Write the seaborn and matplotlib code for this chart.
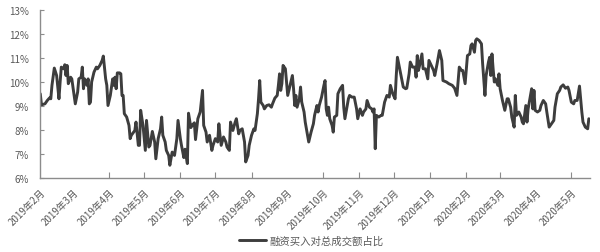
import numpy as np
import pandas as pd
import matplotlib
matplotlib.use("Agg")
import matplotlib.pyplot as plt
import seaborn as sns

# ---------------- data ----------------
start_date = "2019-02-01"
# calendar days since start_date
day_offsets = [
    0, 1, 4, 6, 8, 9, 10, 12, 14, 16, 17, 18, 20, 21, 22, 23, 24, 25, 26, 27,
    29, 30, 32, 33, 35, 36, 37, 38, 40, 41, 42, 43, 44, 46, 48, 49, 51, 53, 54, 56,
    57, 58, 60, 62, 63, 64, 65, 66, 68, 69, 70, 71, 72, 74, 76, 77, 78, 81, 82, 84,
    85, 86, 88, 90, 91, 93, 94, 96, 98, 99, 101, 103, 104, 105, 107, 108, 110, 111, 113, 115,
    117, 118, 120, 121, 123, 124, 126, 127, 129, 130, 132, 133, 134, 135,
    137, 139, 140, 142, 143, 145, 147, 148, 150, 152, 153, 154, 155, 157, 159, 160, 162, 163, 165, 167,
    168, 170, 171, 173, 175, 176, 178, 179, 181, 183, 184, 186, 187, 188, 189, 191, 192, 194, 196, 198,
    199, 201, 203, 204, 205, 206, 207, 208, 210, 211, 212, 214, 216, 217, 218, 219, 220, 222, 223, 224,
    226, 227, 229, 230, 232, 234, 235, 237, 238, 239, 241, 243, 244, 245, 246, 247, 248, 250, 251, 252,
    254, 255, 257, 259, 260, 261, 262, 264, 265, 267, 269, 271, 272, 274, 276, 277, 279, 280, 282, 284,
    285, 286, 287, 288, 290, 292, 293, 295, 297, 299, 300, 302, 304, 305, 306,
    311, 313, 314, 316, 317, 319, 321, 322, 323, 324, 325, 327, 328, 330, 332, 333, 335, 337, 338, 340,
    342, 344, 345, 348, 350, 353, 355, 357, 359, 361, 362, 364, 366, 368, 369, 370, 372, 373, 374, 376,
    378, 379, 381, 382, 384, 385, 386, 387, 388, 389, 390, 392, 393, 394, 396, 398, 400, 401, 403, 404,
    406, 407, 408, 410, 412, 413, 414, 416, 417, 418, 420, 421, 422, 423, 424, 426, 428, 429, 431, 433,
    434, 436, 438, 440, 441, 443, 445, 446, 448, 450, 452, 453, 455, 457, 458, 460, 462, 464, 465, 467,
    469, 470,
]
# 融资买入对总成交额占比 (%)
ratio_pct = [
    9.51, 9.05, 9.09, 9.23, 9.34, 9.30, 9.86, 10.58, 10.27, 9.30, 10.00, 10.62, 10.55, 10.72, 10.27, 10.69, 9.93, 10.06, 10.20, 10.13,
    9.44, 9.09, 9.58, 10.13, 10.20, 10.62, 9.72, 10.13, 9.86, 10.13, 9.09, 9.16, 10.00, 10.41, 10.62, 10.55, 10.69, 10.90, 11.08, 10.13,
    9.86, 9.02, 9.44, 10.13, 9.86, 10.20, 9.72, 10.38, 10.38, 10.34, 9.44, 9.44, 8.68, 8.54, 8.19, 7.64, 7.78, 7.98, 8.33, 7.36,
    7.36, 8.82, 8.19, 7.15, 8.40, 7.29, 7.36, 7.94, 7.50, 6.80, 7.64, 8.05, 8.54, 7.78, 7.50, 7.15, 6.94, 6.53, 7.08, 6.94,
    7.64, 8.40, 7.64, 7.35, 6.85, 7.20, 6.60, 8.70, 8.10, 8.19, 8.30, 7.60, 8.05, 8.47,
    8.75, 9.65, 8.19, 7.91, 7.50, 7.78, 7.15, 7.36, 7.64, 7.50, 8.26, 7.78, 7.36, 7.71, 7.50, 7.29, 7.15, 8.33, 7.98, 8.33,
    8.47, 7.84, 7.98, 8.05, 7.50, 6.67, 6.94, 7.36, 7.78, 8.05, 7.98, 8.68, 9.30, 10.06, 9.16, 9.02, 8.88, 9.02, 9.05, 8.95,
    9.09, 9.33, 9.44, 9.86, 10.34, 9.65, 9.93, 10.69, 10.55, 10.00, 9.44, 9.86, 10.27, 9.72, 9.02, 9.44, 8.95, 9.30, 9.79, 9.16,
    8.75, 8.33, 7.78, 7.50, 7.91, 8.26, 8.61, 9.02, 8.75, 9.02, 9.37, 9.86, 10.06, 8.88, 8.61, 8.95, 8.47, 8.19, 7.91, 8.54,
    8.61, 9.51, 9.72, 9.86, 8.95, 8.47, 8.75, 9.30, 9.44, 9.37, 9.37, 8.88, 8.47, 8.88, 8.61, 8.75, 8.88, 9.23, 8.95, 8.88,
    8.75, 8.88, 7.22, 8.61, 8.54, 8.61, 8.61, 9.16, 9.44, 9.37, 9.86, 9.51, 9.30, 10.27, 11.03,
    9.79, 9.72, 9.74, 10.34, 10.83, 10.62, 10.62, 10.20, 11.10, 10.48, 10.69, 11.17, 10.55, 10.55, 10.13, 10.90, 10.69, 10.48, 10.27, 10.76,
    11.31, 10.90, 10.06, 10.00, 9.93, 9.86, 9.74, 9.44, 10.62, 10.48, 10.48, 9.93, 11.10, 11.17, 11.52, 11.59, 11.24, 11.73, 11.80, 11.73,
    11.59, 10.76, 9.44, 10.27, 10.83, 11.03, 10.27, 11.17, 10.55, 10.00, 10.13, 9.86, 10.34, 9.72, 9.23, 8.82, 9.30, 9.30, 8.95, 8.54,
    8.12, 9.44, 8.61, 8.75, 8.54, 8.33, 8.26, 9.02, 8.33, 8.88, 9.44, 9.72, 8.88, 9.65, 8.82, 8.75, 8.82, 9.02, 9.23, 9.09,
    8.75, 8.12, 8.26, 8.40, 8.95, 9.51, 9.65, 9.79, 9.88, 9.74, 9.79, 9.65, 9.16, 9.09, 9.23, 9.23, 9.83, 8.75, 8.33, 8.12,
    8.05, 8.47,
]
series_name = "融资买入对总成交额占比"

month_ticks = [
    "2019-02-01", "2019-03-01", "2019-04-01", "2019-05-01", "2019-06-01", "2019-07-01",
    "2019-08-01", "2019-09-01", "2019-10-01", "2019-11-01", "2019-12-01", "2020-01-01",
    "2020-02-01", "2020-03-01", "2020-04-01", "2020-05-01",
]
month_labels = [
    "2019年2月", "2019年3月", "2019年4月", "2019年5月", "2019年6月", "2019年7月",
    "2019年8月", "2019年9月", "2019年10月", "2019年11月", "2019年12月", "2020年1月",
    "2020年2月", "2020年3月", "2020年4月", "2020年5月",
]
y_ticks = [6, 7, 8, 9, 10, 11, 12, 13]

# ---------------- styling ----------------
sns.set_style("white")
plt.rcParams["font.family"] = ["Noto Sans CJK SC", "DejaVu Sans"]

line_color = "#3d3d3d"
axis_color = "#8c8c8c"
text_color = "#595959"

df = pd.DataFrame({
    "date": pd.Timestamp(start_date) + pd.to_timedelta(day_offsets, unit="D"),
    "value": ratio_pct,
    "series": series_name,
})

fig = plt.figure(figsize=(6.0, 2.53), dpi=100)
ax = fig.add_axes([40 / 600, 1 - 179 / 253, 550 / 600, 168 / 253])

sns.lineplot(data=df, x="date", y="value", hue="series", palette=[line_color],
             linewidth=2.1, ax=ax, legend=True)

ax.set_ylim(6, 13)
ax.set_xlim(pd.Timestamp(start_date) - pd.Timedelta(hours=6),
            pd.Timestamp(start_date) + pd.Timedelta(days=471))
ax.set_yticks(y_ticks)
ax.set_yticklabels([f"{v}%" for v in y_ticks])
ax.set_xticks(pd.to_datetime(month_ticks))
ax.set_xticklabels(month_labels, rotation=45, ha="right", rotation_mode="anchor")

ax.set_xlabel("")
ax.set_ylabel("")
for side in ["top", "right"]:
    ax.spines[side].set_visible(False)
for side in ["left", "bottom"]:
    ax.spines[side].set_color(axis_color)
    ax.spines[side].set_linewidth(1.0)

ax.tick_params(axis="y", direction="in", length=3, width=0.8, color=axis_color,
               labelsize=7, labelcolor=text_color, pad=8, left=True)
ax.tick_params(axis="x", direction="in", length=4, width=0.8, color=axis_color,
               labelsize=7, labelcolor=text_color, pad=6, bottom=True)

# ticks not drawn in the reference
for tick, lab in zip(ax.xaxis.get_major_ticks(), month_labels):
    if lab in ("2019年2月", "2019年3月", "2019年9月", "2020年4月"):
        tick.tick1line.set_visible(False)

ax.grid(False)

leg = ax.get_legend()
if leg is not None:
    leg.remove()
handles, labels = ax.get_legend_handles_labels()
fig.legend(handles, labels, loc="center", bbox_to_anchor=(311 / 600, 1 - 242 / 253),
           frameon=False, fontsize=7.5, handlelength=2.6, handletextpad=0.3,
           labelcolor=text_color)

fig.savefig("out.png", dpi=100)
